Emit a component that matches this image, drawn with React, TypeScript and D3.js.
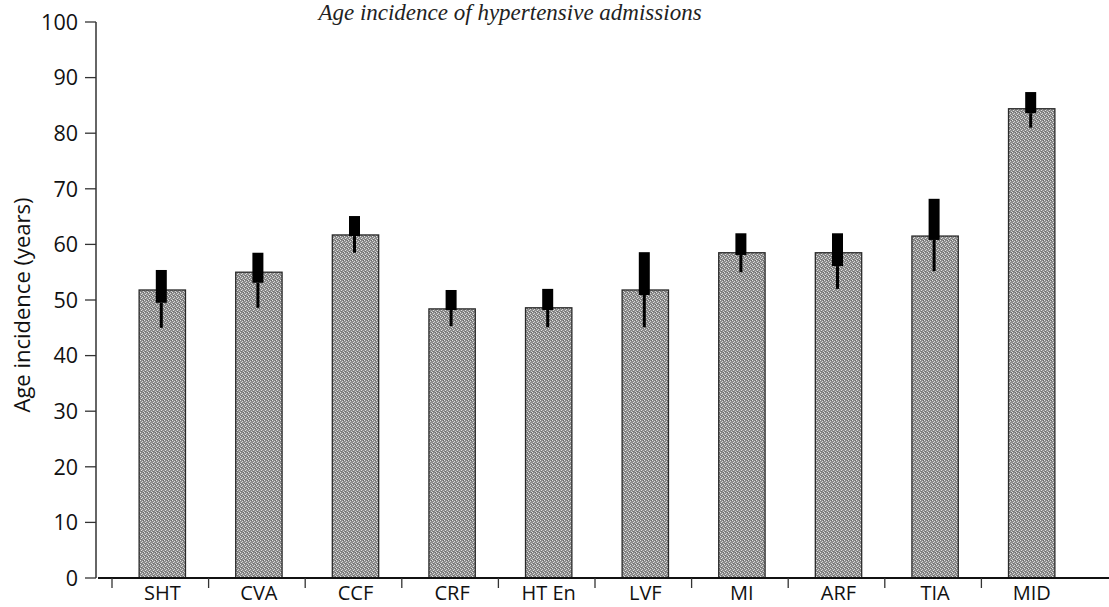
import React from "react";
import * as d3 from "d3";

// categories and values
const categories = ["SHT", "CVA", "CCF", "CRF", "HT En", "LVF", "MI", "ARF", "TIA", "MID"];
const means = [51.8, 55.0, 61.7, 48.4, 48.6, 51.8, 58.5, 58.5, 61.5, 84.4];
const upper = [55.4, 58.5, 65.1, 51.8, 52.0, 58.6, 62.0, 62.0, 68.2, 87.4];
const lower = [45.0, 48.6, 58.5, 45.3, 45.1, 45.1, 55.0, 52.0, 55.2, 81.0];
// where the thick part of the error mark stops (it dips into the bar)
const thickEnd = [49.5, 53.1, 61.5, 48.2, 48.2, 50.9, 58.1, 56.1, 60.8, 83.6];
const yTicks = [0, 10, 20, 30, 40, 50, 60, 70, 80, 90, 100];

const W = 1109;
const H = 607;
const font = "'Open Sans', 'Liberation Sans', sans-serif";

export default function App() {
  const x = d3.scaleBand<string>().domain(categories).range([114, 1080]).padding(0);
  const y = d3.scaleLinear().domain([0, 100]).range([578, 22]);

  const bw = x.bandwidth() * 0.48;
  const axisX = 96;

  return (
    <svg
      width={W}
      height={H}
      style={{ position: "absolute", left: 0, top: 0, background: "#fff" }}
    >
      <defs>
        <pattern id="halftone" width={4} height={4} patternUnits="userSpaceOnUse">
          <rect width={4} height={4} fill="#8c8c8c" />
          <rect x={0} y={0} width={1} height={1} fill="#e2e2e2" />
          <rect x={2} y={1} width={1} height={1} fill="#d6d6d6" />
          <rect x={1} y={2} width={1} height={1} fill="#dedede" />
          <rect x={3} y={3} width={1} height={1} fill="#d0d0d0" />
          <rect x={3} y={0} width={1} height={1} fill="#6a6a6a" />
          <rect x={1} y={3} width={1} height={1} fill="#707070" />
        </pattern>
      </defs>

      {/* title (cut off at the top in the scan, kept visible here) */}
      <text
        x={510}
        y={20}
        textAnchor="middle"
        fontFamily="'Liberation Serif', serif"
        fontStyle="italic"
        fontSize={23}
        fill="#222"
      >
        Age incidence of hypertensive admissions
      </text>

      {/* bars */}
      {categories.map((c, i) => {
        const cx = x(c)! + x.bandwidth() / 2;
        return (
          <rect
            key={c}
            x={cx - bw / 2}
            y={y(means[i])}
            width={bw}
            height={y(0) - y(means[i])}
            fill="url(#halftone)"
            stroke="#2a2a2a"
            strokeWidth={1.3}
          />
        );
      })}

      {/* error marks: thick upper part, thin lower part */}
      {categories.map((c, i) => {
        const cx = x(c)! + x.bandwidth() / 2 - 1;
        return (
          <g key={c}>
            <line x1={cx} x2={cx} y1={y(thickEnd[i])} y2={y(lower[i])} stroke="#000" strokeWidth={3} />
            <rect x={cx - 5.5} y={y(upper[i])} width={11} height={y(thickEnd[i]) - y(upper[i])} fill="#000" />
          </g>
        );
      })}

      {/* y axis */}
      <line x1={axisX} x2={axisX} y1={y(100)} y2={y(0)} stroke="#333" strokeWidth={1.5} />
      {yTicks.map((t) => (
        <g key={t}>
          <line x1={axisX - 11} x2={axisX} y1={y(t)} y2={y(t)} stroke="#333" strokeWidth={1.3} />
          <text
            x={axisX - 18}
            y={y(t)}
            dy="0.36em"
            textAnchor="end"
            fontFamily={font}
            fontSize={21.5}
            fill="#111"
          >
            {t}
          </text>
        </g>
      ))}
      <text
        transform={`translate(22,305) rotate(-90)`}
        textAnchor="middle"
        dy="0.35em"
        fontFamily={font}
        fontSize={22}
        fill="#111"
      >
        Age incidence (years)
      </text>

      {/* x axis */}
      <line x1={axisX + 2} x2={W} y1={y(0)} y2={y(0)} stroke="#111" strokeWidth={2} />
      {categories.map((c) => (
        <g key={c}>
          <line x1={x(c)! - 2} x2={x(c)! - 2} y1={y(0)} y2={y(0) + 10} stroke="#333" strokeWidth={1.3} />
          <text
            x={x(c)! + x.bandwidth() / 2}
            y={600}
            textAnchor="middle"
            fontFamily={font}
            fontSize={20}
            fill="#111"
          >
            {c}
          </text>
        </g>
      ))}
    </svg>
  );
}
